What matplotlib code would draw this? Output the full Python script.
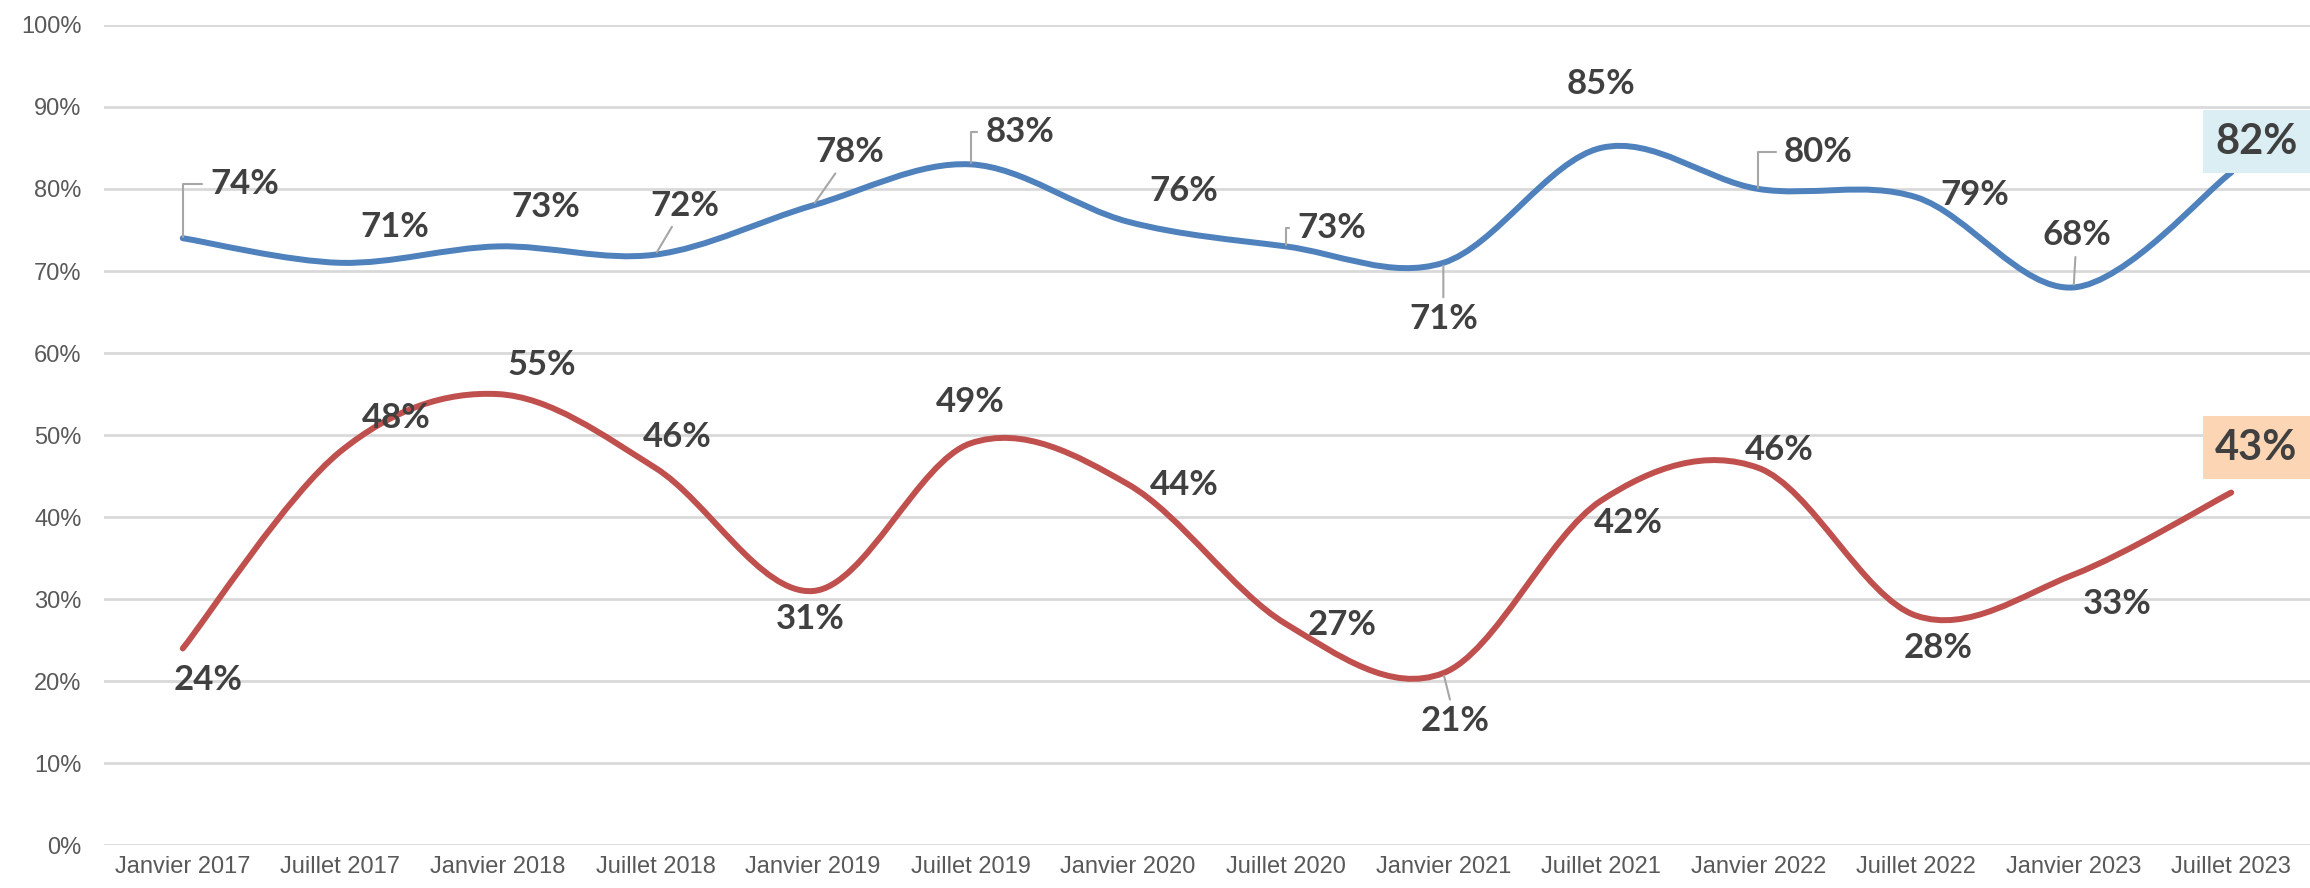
import matplotlib
matplotlib.use("Agg")
import matplotlib.pyplot as plt
from matplotlib.path import Path
from matplotlib.patches import PathPatch

# --- DONNEES ---
periodes = ["Janvier 2017", "Juillet 2017", "Janvier 2018", "Juillet 2018", "Janvier 2019",
            "Juillet 2019", "Janvier 2020", "Juillet 2020", "Janvier 2021", "Juillet 2021",
            "Janvier 2022", "Juillet 2022", "Janvier 2023", "Juillet 2023"]
serie_bleue = [74, 71, 73, 72, 78, 83, 76, 73, 71, 85, 80, 79, 68, 82]
serie_rouge = [24, 48, 55, 46, 31, 49, 44, 27, 21, 42, 46, 28, 33, 43]

# décalages des étiquettes (pixels) et type de trait de rappel
off_bleue = [(62, 54), (55, 36), (48, 39), (29, 49), (37, 53), (49, 32), (56, 31),
             (46, 18), (0, -56), (0, 64), (60, 37), (59, 2), (3, 52), (25, 31)]
lead_bleue = ["angle", None, None, "line", "line", "angle", None,
              "angle", "line", None, "angle", None, "line", None]
off_rouge = [(25, -32), (56, 34), (44, 29), (22, 31), (-3, -28), (0, 41), (56, -1),
             (56, -1), (12, -48), (27, -22), (21, 18), (22, -32), (44, -29), (25, 45)]
lead_rouge = [None] * 8 + ["line"] + [None] * 5

BLEU = "#4F81BD"
ROUGE = "#C0504D"
GRIS_TXT = "#404040"

fig = plt.figure(figsize=(23.1, 8.88), dpi=100)
ax = fig.add_axes([0.045, 0.048, 0.955, 0.924])


def courbe_lissee(xs, ys):
    # lissage type Excel : Bézier cubique passant par chaque point
    verts = [(xs[0], ys[0])]
    codes = [Path.MOVETO]
    n = len(xs)
    for i in range(n - 1):
        x0, y0 = (xs[i - 1], ys[i - 1]) if i > 0 else (xs[i], ys[i])
        x1, y1 = xs[i], ys[i]
        x2, y2 = xs[i + 1], ys[i + 1]
        x3, y3 = (xs[i + 2], ys[i + 2]) if i + 2 < n else (x2, y2)
        c1 = (x1 + (x2 - x0) / 6, y1 + (y2 - y0) / 6)
        c2 = (x2 - (x3 - x1) / 6, y2 - (y3 - y1) / 6)
        verts += [c1, c2, (x2, y2)]
        codes += [Path.CURVE4] * 3
    return Path(verts, codes)


x = list(range(len(periodes)))
for vals, col in [(serie_bleue, BLEU), (serie_rouge, ROUGE)]:
    ys = [v / 100 for v in vals]
    ax.add_patch(PathPatch(courbe_lissee(x, ys), facecolor="none", edgecolor=col,
                           lw=4.3, capstyle="round", joinstyle="round", zorder=3))


def etiquettes(vals, offs, leads, fond):
    for i, v in enumerate(vals):
        derniere = i == len(vals) - 1
        props = None
        if leads[i] == "line":
            props = dict(arrowstyle="-", color="#A6A6A6", lw=1.5, shrinkA=2, shrinkB=2)
        elif leads[i] == "angle":
            props = dict(arrowstyle="-", color="#A6A6A6", lw=1.5, shrinkA=4, shrinkB=1,
                         connectionstyle="angle,angleA=0,angleB=90,rad=0",
                         relpos=(0, 0.5))
        ax.annotate(f"{v}%", xy=(i, v / 100), xytext=offs[i], textcoords="offset pixels",
                    ha="center", va="center", fontsize=30 if derniere else 25,
                    fontweight="bold", color=GRIS_TXT, family=["Lato", "DejaVu Sans"],
                    arrowprops=props, zorder=4,
                    bbox=dict(boxstyle="square,pad=0.3", fc=fond, ec="none") if derniere else None)


etiquettes(serie_bleue, off_bleue, lead_bleue, "#DAEEF3")
etiquettes(serie_rouge, off_rouge, lead_rouge, "#FCD5B4")

ax.set_xlim(-0.5, len(periodes) - 0.5)
ax.set_ylim(0, 1)
ax.set_yticks([i / 10 for i in range(11)])
ax.set_yticklabels([f"{i * 10}%" for i in range(11)])
ax.set_xticks(x)
ax.set_xticklabels(periodes)
ax.grid(axis="y", color="#D9D9D9", lw=2)
ax.set_axisbelow(True)
for s in ax.spines.values():
    s.set_visible(False)
ax.tick_params(length=0, labelsize=17, colors="#595959")
ax.tick_params(axis="x", pad=8)
ax.tick_params(axis="y", pad=16)
for lab in ax.get_xticklabels() + ax.get_yticklabels():
    lab.set_family(["Liberation Sans Narrow", "Liberation Sans", "DejaVu Sans"])

fig.savefig("out.png", dpi=100)
